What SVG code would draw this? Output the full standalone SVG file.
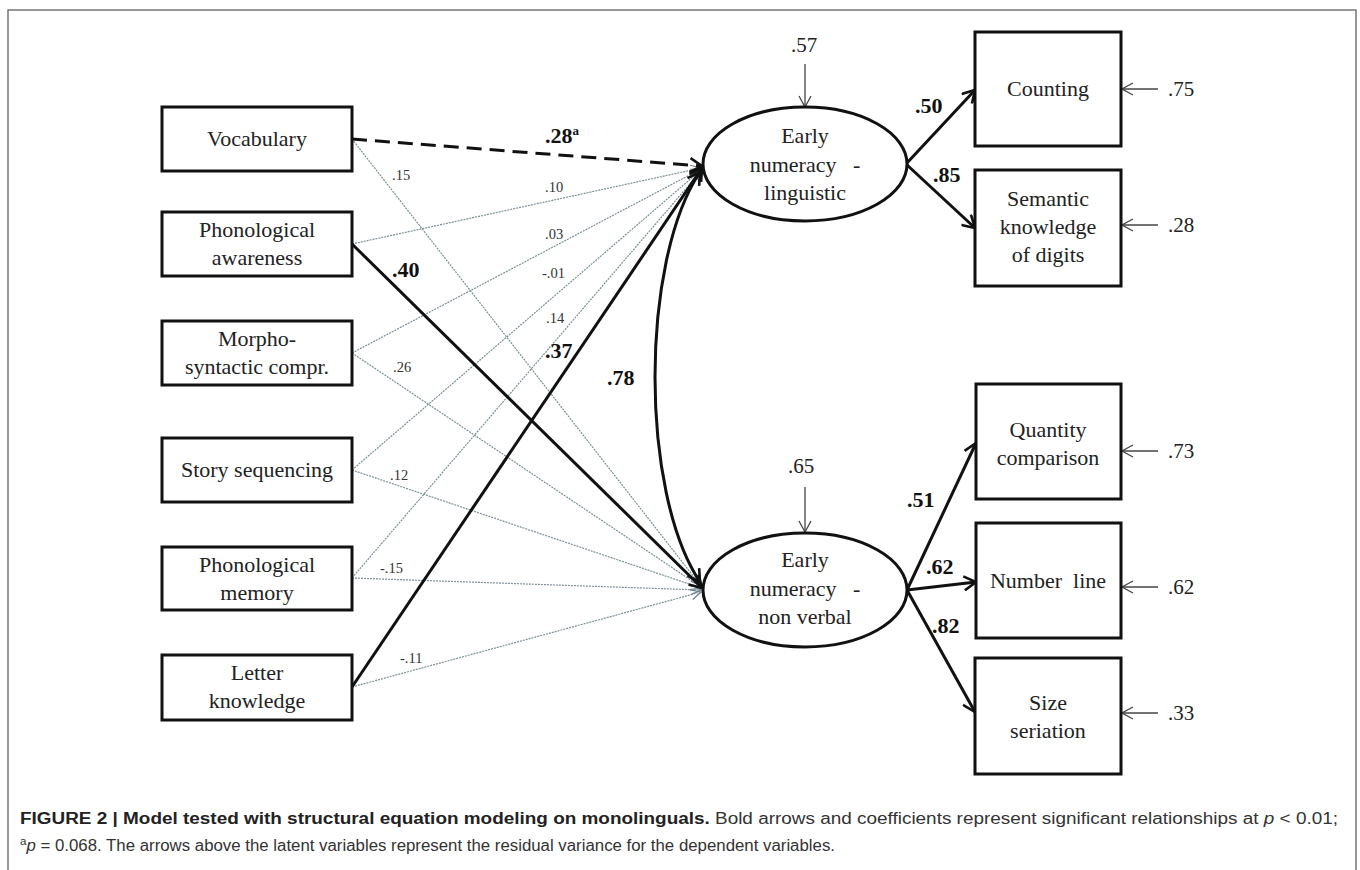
<svg xmlns="http://www.w3.org/2000/svg" width="1360" height="870" viewBox="0 0 1360 870">
<defs>
<style>
.box{fill:#fff;stroke:#111;stroke-width:3}
.ell{fill:#fff;stroke:#111;stroke-width:3}
.t{font-family:"Liberation Serif","Times New Roman",serif;font-size:22px;fill:#222;text-anchor:middle}
.n{font-family:"Liberation Serif","Times New Roman",serif;font-size:21px;fill:#222}
.s{font-family:"Liberation Serif","Times New Roman",serif;font-size:14.5px;fill:#333}
.b{font-family:"Liberation Serif","Times New Roman",serif;font-size:22px;font-weight:bold;fill:#111}
.bold{fill:none;stroke:#111;stroke-width:3;marker-end:url(#ah)}
.dot{fill:none;stroke:#7b9097;stroke-width:1.2;stroke-dasharray:2 1;marker-end:url(#ahd)}
.res{fill:none;stroke:#444;stroke-width:1.3;marker-end:url(#ahr)}
.cap{font-family:"Liberation Sans",Arial,sans-serif;font-size:16px;fill:#333}
</style>
<marker id="ah" viewBox="0 0 16 16" refX="14" refY="8" markerWidth="16" markerHeight="16" markerUnits="userSpaceOnUse" orient="auto-start-reverse">
<path d="M2,1 L14,8 L2,15" fill="none" stroke="#111" stroke-width="2.6"/>
</marker>
<marker id="ahd" viewBox="0 0 12 12" refX="11" refY="6" markerWidth="12" markerHeight="12" markerUnits="userSpaceOnUse" orient="auto">
<path d="M1,1 L11,6 L1,11" fill="none" stroke="#6f8289" stroke-width="1.2"/>
</marker>
<marker id="ahr" viewBox="0 0 14 14" refX="13" refY="7" markerWidth="14" markerHeight="14" markerUnits="userSpaceOnUse" orient="auto">
<path d="M2,1 L13,7 L2,13" fill="none" stroke="#444" stroke-width="1.3"/>
</marker>
</defs>
<rect width="1360" height="870" fill="#fff"/>
<path d="M8,870 L8,10 L1356,10 L1356,870" fill="none" stroke="#777" stroke-width="1.5"/>

<g id="connectors">
<line class="dot" x1="352" y1="244" x2="701" y2="168"/>
<line class="dot" x1="352" y1="353" x2="701" y2="169"/>
<line class="dot" x1="352" y1="470" x2="701" y2="170"/>
<line class="dot" x1="352" y1="578" x2="701" y2="171"/>
<line class="dot" x1="352" y1="139" x2="701" y2="586"/>
<line class="dot" x1="352" y1="353" x2="701" y2="587"/>
<line class="dot" x1="352" y1="470" x2="701" y2="588"/>
<line class="dot" x1="352" y1="578" x2="701" y2="590"/>
<line class="dot" x1="352" y1="687" x2="701" y2="592"/>
<line x1="352" y1="139" x2="702" y2="166" fill="none" stroke="#111" stroke-width="3" stroke-dasharray="15 8" marker-end="url(#ah)"/>
<line class="bold" x1="352" y1="244" x2="702" y2="588"/>
<line class="bold" x1="352" y1="687" x2="702" y2="168"/>
<path d="M700,172 C640,262 640,492 700,582" fill="none" stroke="#111" stroke-width="3" marker-start="url(#ah)" marker-end="url(#ah)"/>
<line class="bold" x1="906" y1="164" x2="975" y2="90"/>
<line class="bold" x1="906" y1="164" x2="975" y2="228"/>
<line class="bold" x1="907" y1="590" x2="976" y2="443"/>
<line class="bold" x1="907" y1="590" x2="976" y2="582"/>
<line class="bold" x1="907" y1="590" x2="975" y2="712"/>
<line class="res" x1="805" y1="64" x2="805" y2="107"/>
<line class="res" x1="805" y1="487" x2="805" y2="532"/>
<line class="res" x1="1158" y1="89" x2="1122" y2="89"/>
<line class="res" x1="1158" y1="225" x2="1122" y2="225"/>
<line class="res" x1="1158" y1="451" x2="1122" y2="451"/>
<line class="res" x1="1158" y1="587" x2="1122" y2="587"/>
<line class="res" x1="1158" y1="713" x2="1122" y2="713"/>
<text class="b" x="545" y="143">.28<tspan font-size="13" dy="-8">a</tspan></text>
<text class="s" x="392" y="180">.15</text>
<text class="s" x="545" y="192">.10</text>
<text class="s" x="545" y="239">.03</text>
<text class="s" x="542" y="278">-.01</text>
<text class="s" x="546" y="323">.14</text>
<text class="b" x="392" y="277">.40</text>
<text class="b" x="545" y="358">.37</text>
<text class="s" x="393" y="372">.26</text>
<text class="b" x="607" y="385">.78</text>
<text class="s" x="390" y="480">.12</text>
<text class="s" x="380" y="573">-.15</text>
<text class="s" x="400" y="663">-.11</text>
<text class="b" x="915" y="113">.50</text>
<text class="b" x="933" y="182">.85</text>
<text class="b" x="907" y="507">.51</text>
<text class="b" x="926" y="574">.62</text>
<text class="b" x="932" y="633">.82</text>
<text class="n" x="791" y="52">.57</text>
<text class="n" x="788" y="473">.65</text>
<text class="n" x="1168" y="96">.75</text>
<text class="n" x="1168" y="232">.28</text>
<text class="n" x="1168" y="458">.73</text>
<text class="n" x="1168" y="594">.62</text>
<text class="n" x="1168" y="720">.33</text>
</g>

<g id="vocabulary"><rect class="box" x="162" y="107" width="190" height="64"/><text class="t" x="257" y="146">Vocabulary</text></g>
<g id="phonological-awareness"><rect class="box" x="162" y="212" width="190" height="64"/><text class="t" x="257" y="237">Phonological</text><text class="t" x="257" y="265">awareness</text></g>
<g id="morpho-syntactic"><rect class="box" x="162" y="321" width="190" height="64"/><text class="t" x="257" y="346">Morpho-</text><text class="t" x="257" y="374">syntactic  compr.</text></g>
<g id="story-sequencing"><rect class="box" x="162" y="438" width="190" height="64"/><text class="t" x="257" y="477">Story sequencing</text></g>
<g id="phonological-memory"><rect class="box" x="162" y="547" width="190" height="63"/><text class="t" x="257" y="572">Phonological</text><text class="t" x="257" y="600">memory</text></g>
<g id="letter-knowledge"><rect class="box" x="162" y="655" width="190" height="65"/><text class="t" x="257" y="680">Letter</text><text class="t" x="257" y="708">knowledge</text></g>

<g id="early-numeracy-linguistic"><ellipse class="ell" cx="805" cy="164" rx="102" ry="57"/><text class="t" x="805" y="143">Early</text><text class="t" x="805" y="172" xml:space="preserve">numeracy   -</text><text class="t" x="805" y="200">linguistic</text></g>
<g id="early-numeracy-nonverbal"><ellipse class="ell" cx="805" cy="590" rx="102" ry="57"/><text class="t" x="805" y="567">Early</text><text class="t" x="805" y="596" xml:space="preserve">numeracy   -</text><text class="t" x="805" y="624">non verbal</text></g>

<g id="counting"><rect class="box" x="975" y="32" width="146" height="114"/><text class="t" x="1048" y="96">Counting</text></g>
<g id="semantic-knowledge"><rect class="box" x="975" y="170" width="146" height="116"/><text class="t" x="1048" y="206">Semantic</text><text class="t" x="1048" y="234">knowledge</text><text class="t" x="1048" y="262">of digits</text></g>
<g id="quantity-comparison"><rect class="box" x="976" y="384" width="145" height="115"/><text class="t" x="1048" y="437">Quantity</text><text class="t" x="1048" y="465">comparison</text></g>
<g id="number-line"><rect class="box" x="976" y="523" width="145" height="115"/><text class="t" x="1048" y="588" xml:space="preserve">Number  line</text></g>
<g id="size-seriation"><rect class="box" x="975" y="658" width="146" height="116"/><text class="t" x="1048" y="710">Size</text><text class="t" x="1048" y="738">seriation</text></g>

<g id="caption">
<text class="cap" x="20" y="824" textLength="1318" lengthAdjust="spacingAndGlyphs"><tspan font-weight="bold" fill="#222">FIGURE 2 | Model tested with structural equation modeling on monolinguals.</tspan> Bold arrows and coefficients represent significant relationships at <tspan font-style="italic">p</tspan> &lt; 0.01;</text>
<text class="cap" x="20" y="851" textLength="815" lengthAdjust="spacingAndGlyphs"><tspan font-size="11" dy="-6">a</tspan><tspan font-style="italic" dy="6">p</tspan> = 0.068. The arrows above the latent variables represent the residual variance for the dependent variables.</text>
</g>
</svg>
